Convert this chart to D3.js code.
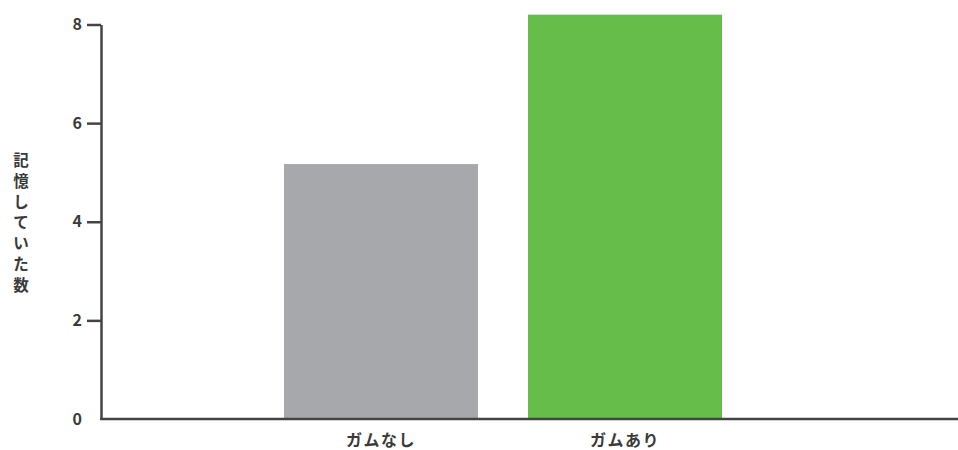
<!DOCTYPE html>
<html>
<head>
<meta charset="utf-8">
<script src="https://cdn.jsdelivr.net/npm/d3@7"></script>
<style>
  html, body { margin: 0; padding: 0; background: #fff; }
  svg { display: block; }
  text { font-family: "Noto Sans CJK JP", "Noto Sans", sans-serif; font-weight: 700; fill: #3a3a3a; }
</style>
</head>
<body>
<svg id="chart" width="958" height="450"></svg>
<script>
// Recall counts with and without chewing gum
const categories = ["ガムなし", "ガムあり"];
const values = [5.17, 8.2];
const barColors = ["#a7a8ab", "#66bd4a"];
const yTicks = [0, 2, 4, 6, 8];
const yTitle = "記憶していた数";

const svg = d3.select("#chart");
const axisColor = "#444";
const fontFamily = "\"Noto Sans CJK JP\", \"Noto Sans\", sans-serif";

const x = d3.scaleBand()
  .domain(categories)
  .range([101, 905])
  .paddingInner(0.205)
  .paddingOuter(0.75);

const y = d3.scaleLinear()
  .domain([0, 8])
  .range([419, 24.5]);

// bars
svg.append("g")
  .selectAll("rect")
  .data(categories)
  .join("rect")
  .attr("x", d => x(d))
  .attr("width", x.bandwidth())
  .attr("y", (d, i) => y(values[i]))
  .attr("height", (d, i) => y(0) - y(values[i]))
  .attr("fill", (d, i) => barColors[i]);

// y axis
const yAxis = svg.append("g")
  .attr("transform", "translate(101,0)")
  .call(d3.axisLeft(y).tickValues(yTicks).tickSize(14).tickSizeOuter(0).tickPadding(5));
yAxis.select(".domain").attr("stroke", axisColor).attr("stroke-width", 2.5);
yAxis.selectAll(".tick line").attr("stroke", axisColor).attr("stroke-width", 2.5)
  .filter(d => d === 0).remove();
yAxis.selectAll(".tick text")
  .attr("font-size", 16)
  .attr("font-family", fontFamily)
  .attr("font-weight", 700)
  .attr("fill", "#3a3a3a");

// x axis labels
const xAxis = svg.append("g")
  .attr("transform", `translate(0,${y(0)})`)
  .call(d3.axisBottom(x).tickSize(0).tickPadding(15));
xAxis.select(".domain").remove();
xAxis.selectAll(".tick text")
  .attr("font-size", 16)
  .attr("letter-spacing", 1.5)
  .attr("dy", "0.75em")
  .attr("font-family", fontFamily)
  .attr("font-weight", 700)
  .attr("fill", "#3a3a3a");

// baseline running to the right edge
svg.append("line")
  .attr("x1", 100).attr("x2", 958)
  .attr("y1", y(0)).attr("y2", y(0))
  .attr("stroke", axisColor).attr("stroke-width", 2.5);

// vertical y-axis title, one character per line
const title = svg.append("text")
  .attr("text-anchor", "middle")
  .attr("font-size", 15.5);
title.selectAll("tspan")
  .data(Array.from(yTitle))
  .join("tspan")
  .attr("x", 21)
  .attr("y", (d, i) => 166 + i * 20.8)
  .text(d => d);
</script>
</body>
</html>
